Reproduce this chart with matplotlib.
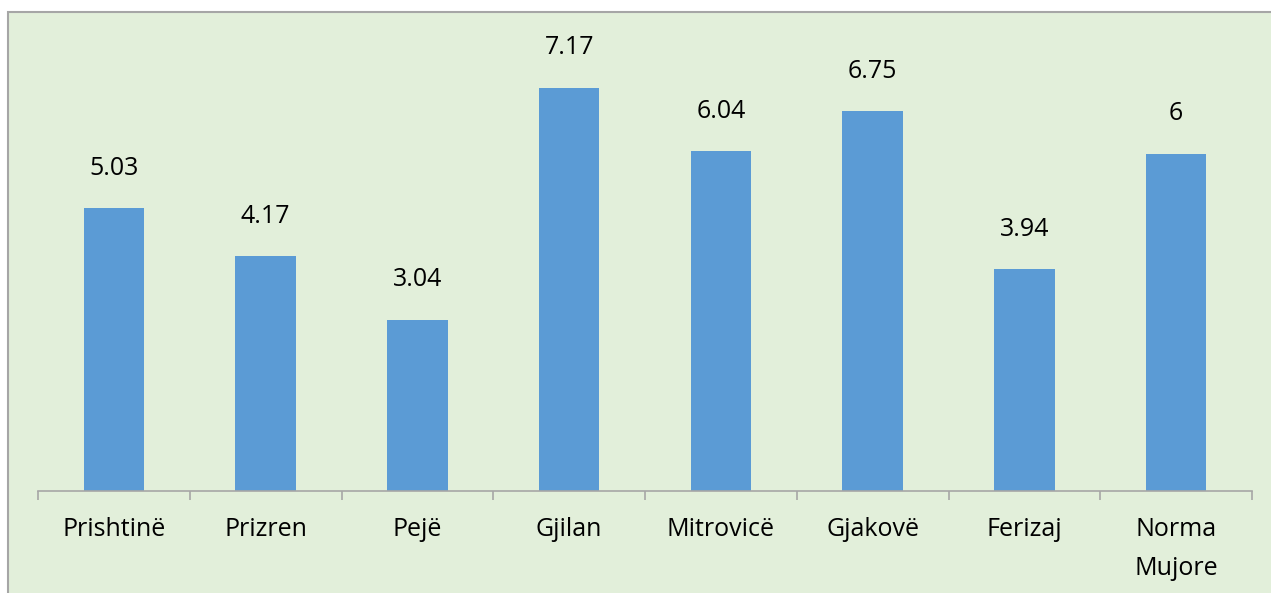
import matplotlib
matplotlib.use("Agg")
import matplotlib.pyplot as plt
from matplotlib.patches import Rectangle
from matplotlib.ticker import FixedLocator

categories = ["Prishtinë", "Prizren", "Pejë", "Gjilan", "Mitrovicë", "Gjakovë", "Ferizaj", "Norma\nMujore"]
values = [5.03, 4.17, 3.04, 7.17, 6.04, 6.75, 3.94, 6]
labels = ["5.03", "4.17", "3.04", "7.17", "6.04", "6.75", "3.94", "6"]

W, H = 1271, 593
DPI = 100
plt.rcParams['font.family'] = ['Open Sans', 'DejaVu Sans']

fig = plt.figure(figsize=(W / DPI, H / DPI), dpi=DPI)
fig.patch.set_facecolor("white")

# chart area background with gray border (top and left visible)
bg = Rectangle((8 / W, -0.05), 1.1, (H - 12) / H + 0.05, transform=fig.transFigure,
               facecolor="#E2EFDA", edgecolor="#A6A6A6", linewidth=1.5, zorder=-10)
fig.add_artist(bg)

left, right, bottom = 38, 1252, 491
top = 30
ax = fig.add_axes([left / W, 1 - bottom / H, (right - left) / W, (bottom - top) / H])
ax.set_facecolor("none")
ax.set_zorder(5)
x = list(range(len(categories)))
ax.bar(x, values, width=0.4, color="#5B9BD5", zorder=2)
ax.set_xlim(-0.5, len(categories) - 0.5)
ax.set_ylim(0, (bottom - top) / 56.25)

for xi, v, lab in zip(x, values, labels):
    ax.annotate(lab, (xi, v), xytext=(0, 40 * 72 / DPI), textcoords="offset points",
                ha="center", va="center", fontsize=18, color="#000000")

for s in ["top", "right", "left"]:
    ax.spines[s].set_visible(False)
ax.spines["bottom"].set_color("#A6A6A6")
ax.spines["bottom"].set_linewidth(1.2)
ax.set_yticks([])
ax.set_xticks(x)
ax.set_xticklabels(categories, fontsize=18, linespacing=1.75)
ax.tick_params(axis="x", which="major", length=0, pad=18.5)
ax.xaxis.set_minor_locator(FixedLocator([i - 0.5 for i in range(len(categories) + 1)]))
ax.tick_params(axis="x", which="minor", length=6.5, width=1.2, color="#A6A6A6")

fig.savefig("out.png", dpi=DPI)
